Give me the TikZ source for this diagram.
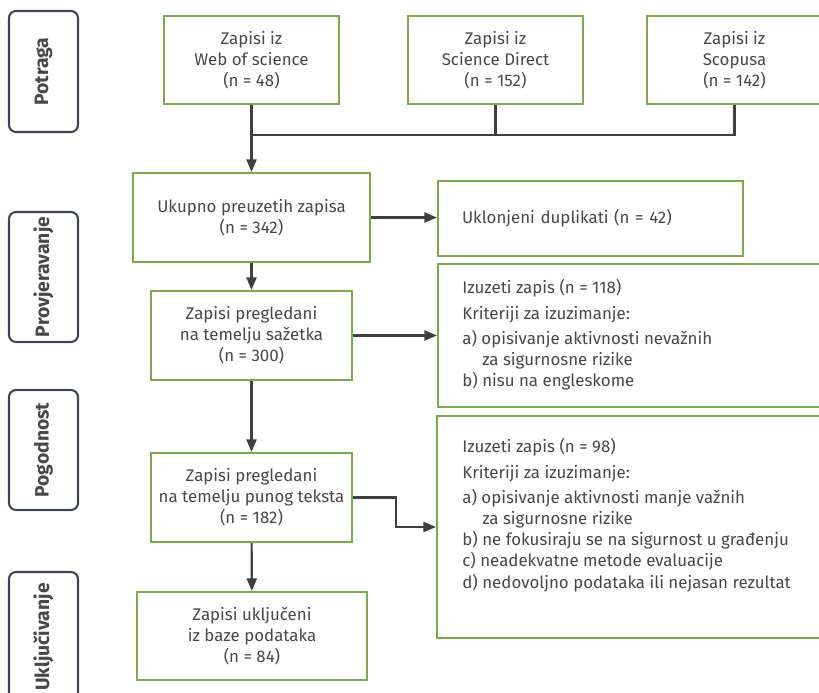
\documentclass[tikz,border=0pt]{standalone}
\usepackage{fontspec}
\setmainfont{Fira Sans}
\usetikzlibrary{positioning,arrows.meta,calc}
\definecolor{prgreen}{HTML}{7BAA4C}
\definecolor{prink}{HTML}{474747}
\definecolor{prline}{HTML}{3F3F3F}
\definecolor{prslate}{HTML}{3E4651}

\begin{document}
\begin{tikzpicture}[x=0.02cm, y=-0.02cm, font=\fontsize{9.6}{12}\selectfont\color{prink},
  bx/.style={draw=prgreen, line width=1.2pt, align=center, inner sep=0pt},
  stage/.style={draw=prslate, line width=1.2pt, rounded corners=4pt, rotate=90, minimum height=1.38cm, inner sep=0pt, font=\fontsize{11}{13}\selectfont\bfseries\color{prink}},
  note/.style={anchor=north west, align=left, inner sep=0pt},
  flow/.style={-{Triangle[length=2.5mm, width=2mm]}, draw=prline, line width=1.2pt},
  link/.style={draw=prline, line width=1.2pt}]
\useasboundingbox (0,0) rectangle (819,693);
\clip (0,0) rectangle (819,693);
% ===== stages =====
\node[stage, minimum width=2.42cm] (potraga) at (43.5,71.5) {Potraga};
\node[stage, minimum width=2.6cm] (provj) at (43.5,277) {Provjeravanje};
\node[stage, minimum width=2.4cm] (pogod) at (43.5,450) {Pogodnost};
\node[stage, minimum width=2.6cm] (ukljuc) at (43.5,637) {Uključivanje};
% ===== sources =====
\node[bx, minimum width=3.5cm, minimum height=1.76cm] (wos) at (251.5,60) {Zapisi iz\\Web of science\\(n = 48)};
\node[bx, minimum width=3.5cm, minimum height=1.76cm] (sd) at (495.5,60) {Zapisi iz\\Science Direct\\(n = 152)};
\node[bx, minimum width=3.5cm, minimum height=1.76cm] (sco) at (734.5,60) {Zapisi iz\\Scopusa\\(n = 142)};
% ===== main column =====
\node[bx, minimum width=4.74cm, minimum height=1.78cm] (total) at (251.5,217.5) {Ukupno preuzetih zapisa\\(n = 342)};
\node[bx, minimum width=4.02cm, minimum height=1.78cm] (abs) at (251.5,335.5) {Zapisi pregledani\\na temelju sažetka\\(n = 300)};
\node[bx, minimum width=4.02cm, minimum height=1.78cm] (full) at (251.5,497.5) {Zapisi pregledani\\na temelju punog teksta\\(n = 182)};
\node[bx, minimum width=4.6cm, minimum height=1.76cm] (incl) at (252,636) {Zapisi uključeni\\iz baze podataka\\(n = 84)};
% ===== excluded =====
\node[bx, align=left, text width=5.14cm, inner xsep=0.48cm, minimum height=1.5cm] (dup) at (590.5,218.5) {Uklonjeni duplikati (n = 42)};
\node[bx, minimum width=8.4cm, minimum height=2.86cm] (ex118) at (648,335.5) {};
\node[note] (t118) at ($(ex118.north west)+(25,16)$) {Izuzeti zapis (n = 118)\\[1mm]
  Kriteriji za izuzimanje:\\[0.8mm]
  a) opisivanje aktivnosti nevažnih\\
  \hspace*{0.4cm}za sigurnosne rizike\\
  b) nisu na engleskome};
\node[bx, minimum width=8.4cm, minimum height=4.44cm] (ex98) at (647,527) {};
\node[note] (t98) at ($(ex98.north west)+(26,23)$) {Izuzeti zapis (n = 98)\\[1mm]
  Kriteriji za izuzimanje:\\[0.8mm]
  a) opisivanje aktivnosti manje važnih\\
  \hspace*{0.4cm}za sigurnosne rizike\\
  b) ne fokusiraju se na sigurnost u građenju\\
  c) neadekvatne metode evaluacije\\
  d) nedovoljno podataka ili nejasan rezultat};
% ===== connectors =====
\coordinate (jn) at (251.5,135);
\draw[link] (sco.south) |- (jn);
\draw[link] (sd.south) -- (sd.south |- jn);
\draw[flow] (wos) -- (total);
\draw[flow] (total.east) -- (total.east -| dup.west);
\draw[flow] (total) -- (abs);
\draw[flow] (abs) -- (ex118);
\draw[flow] (abs) -- (full);
\draw[flow] (full.east) -- ++(43,0) |- (ex98.west);
\draw[flow] (full) -- (incl);
\end{tikzpicture}
\end{document}
